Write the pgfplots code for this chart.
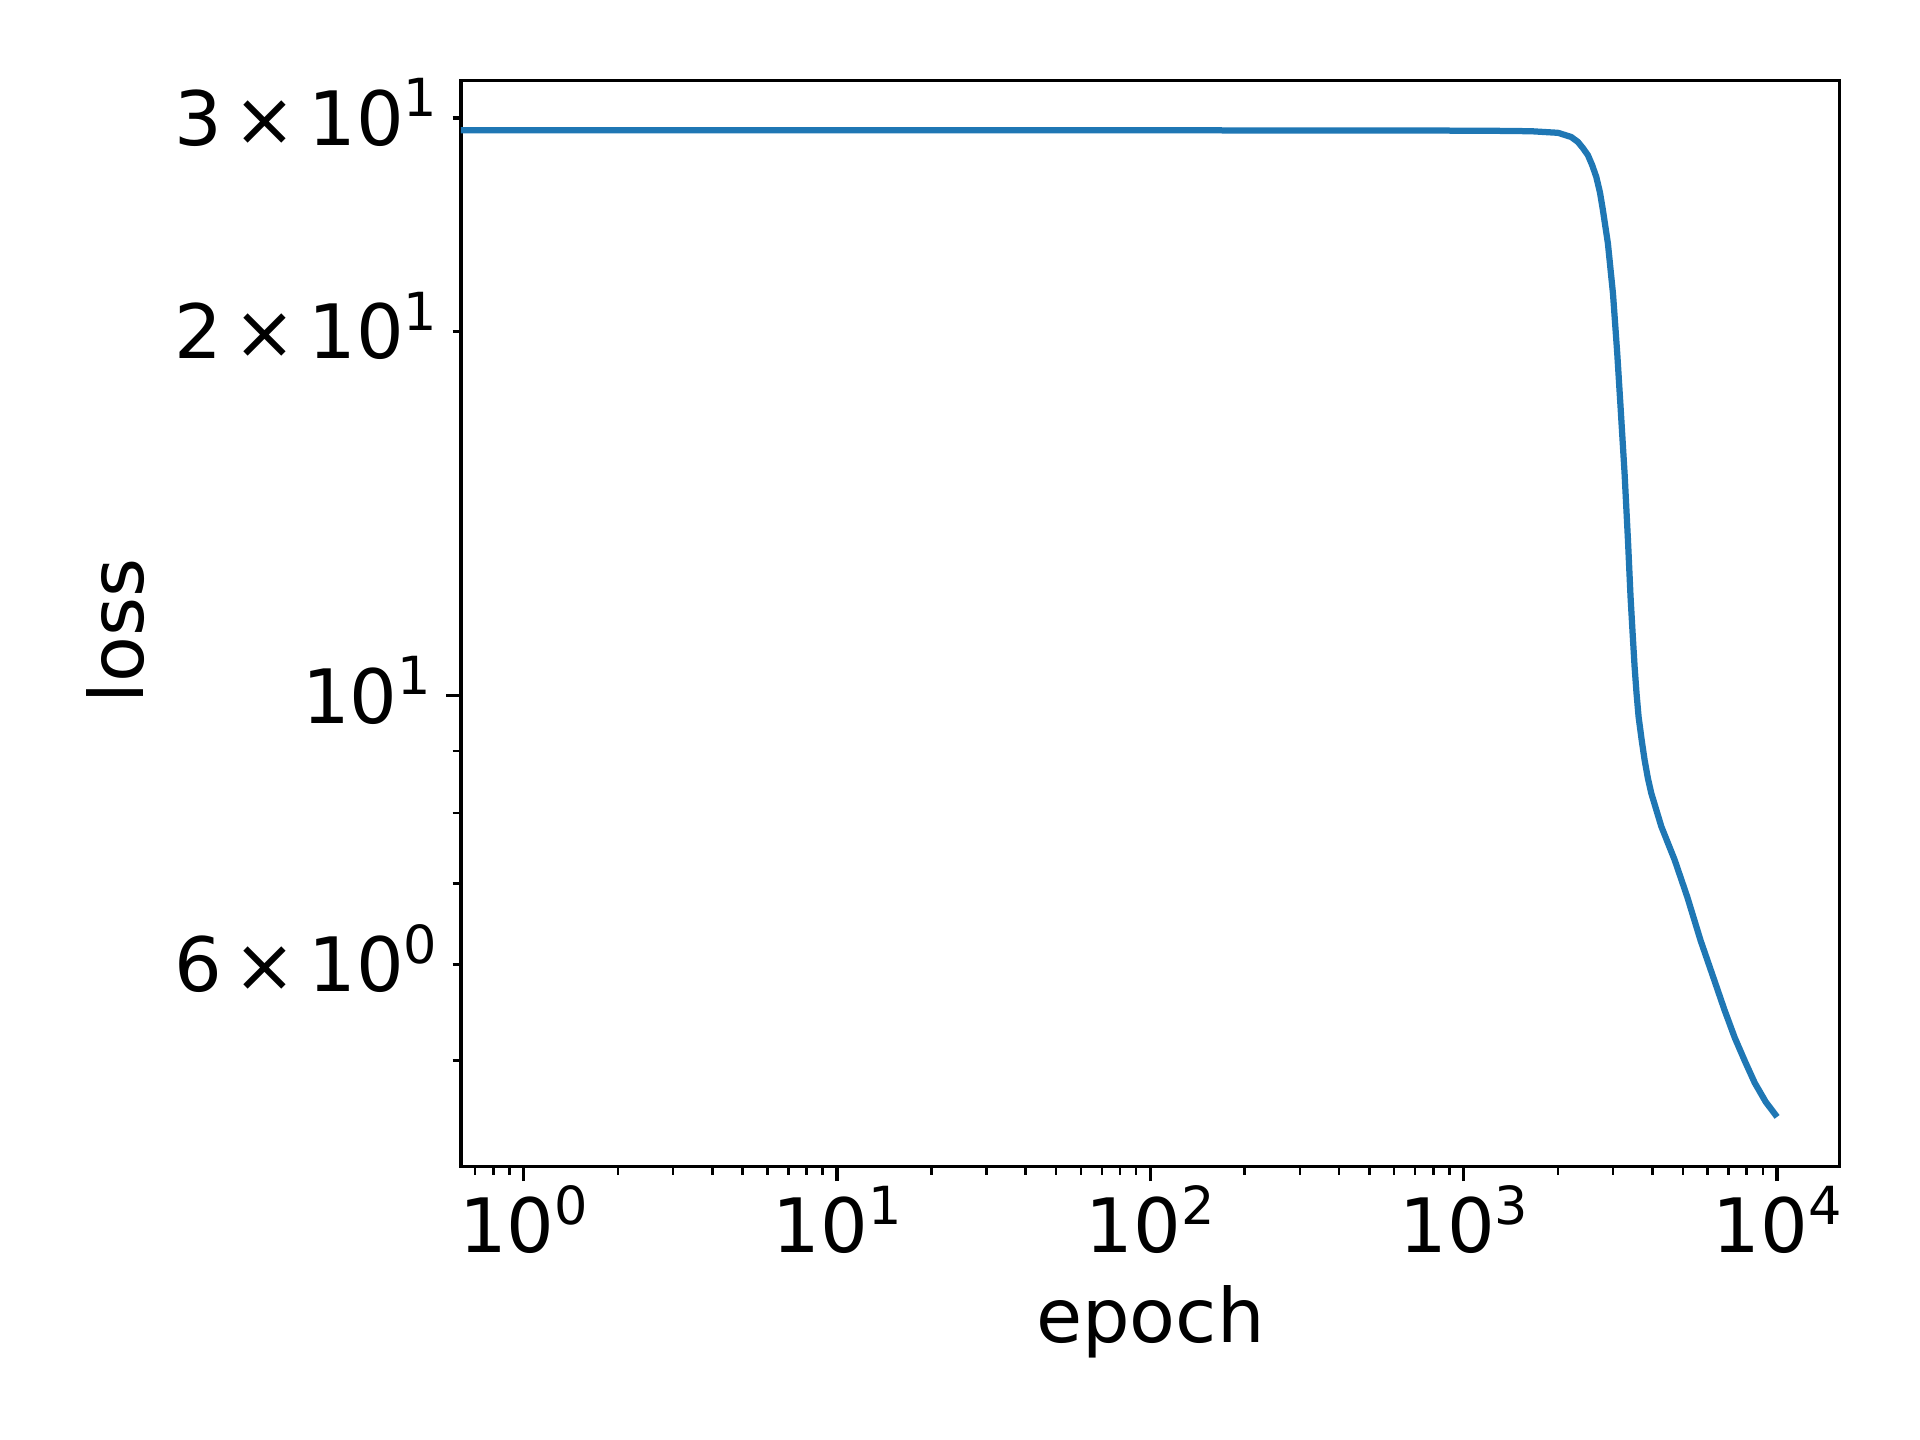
\documentclass[border=0pt]{standalone}
\usepackage{pgfplots}
\pgfplotsset{compat=1.18}
\usepackage{fontspec}
\setmainfont{DejaVu Sans}
\definecolor{tabblue}{HTML}{1F77B4}
\newcommand{\sups}[1]{\raisebox{6.8pt}{\fontsize{12.6}{15}\selectfont #1}}
\newcommand{\tms}{\kern2.8pt×\kern2.8pt}

\pgfplotstableread{
x y
0.5 29.31
1 29.31
10 29.31
100 29.30
500 29.29
1136 29.28
1641 29.25
2000 29.16
2203 28.93
2314 28.66
2400 28.33
2490 27.95
2570 27.42
2648 26.82
2720 26.05
2781 25.17
2885 23.63
2994 21.49
3090 19.17
3166 17.32
3261 15.26
3343 13.44
3407 12.07
3460 11.25
3510 10.57
3560 10.05
3614 9.61
3700 9.18
3778 8.85
3870 8.55
3968 8.31
4271 7.80
4711 7.32
5171 6.82
5700 6.28
6323 5.81
6800 5.50
7326 5.22
7900 4.99
8487 4.79
9200 4.62
10000 4.49
}\losstable

\begin{document}
\fontsize{18}{21.6}\selectfont
\begin{tikzpicture}
\path[use as bounding box] (0,0) rectangle (460.8pt,345.6pt);
\begin{axis}[
  at={(110.64pt,65.6pt)}, anchor=south west, scale only axis,
  width=330.9pt, height=260.6pt,
  xmode=log, ymode=log,
  xmin=0.631, xmax=15849, ymin=4.085, ymax=32.19,
  axis line style={line width=0.8pt},
  tick align=outside, xtick pos=bottom, ytick pos=left,
  major tick length=3.5pt, minor tick length=2pt,
  every major tick/.style={line width=0.8pt, black},
  every minor tick/.style={line width=0.6pt, black},
  xtick={1,10,100,1000,10000},
  xticklabels={10\sups{0},10\sups{1},10\sups{2},10\sups{3},10\sups{4}},
  minor xtick={0.7,0.8,0.9,2,3,4,5,6,7,8,9,20,30,40,50,60,70,80,90,200,300,400,500,600,700,800,900,2000,3000,4000,5000,6000,7000,8000,9000},
  ytick={10}, yticklabels={10\sups{1}},
  minor ytick={5,7,8,9},
  extra y ticks={6,20,30},
  extra y tick labels={6\tms10\sups{0},2\tms10\sups{1},3\tms10\sups{1}},
  extra y tick style={major tick length=2pt, tick style={line width=0.6pt}},
  every tick label/.append style={font=\fontsize{18}{21.6}\selectfont, inner sep=0pt},
  xticklabel style={anchor=base, yshift=-17.2pt},
  yticklabel style={anchor=base east, yshift=-6.56pt, xshift=-3.5pt},
  label style={font=\fontsize{18}{21.6}\selectfont, inner sep=0pt},
  xlabel={epoch},
  xlabel style={at={(rel axis cs:0.5,0)}, anchor=base, yshift=-42.3pt},
  ylabel={loss},
  ylabel style={at={(rel axis cs:0,0.5)}, anchor=center, yshift=82.9pt, xshift=-1.8pt},
]
\addplot[tabblue, line width=1.5pt, line join=round] table[x=x, y=y] {\losstable};
\end{axis}
\end{tikzpicture}
\end{document}
